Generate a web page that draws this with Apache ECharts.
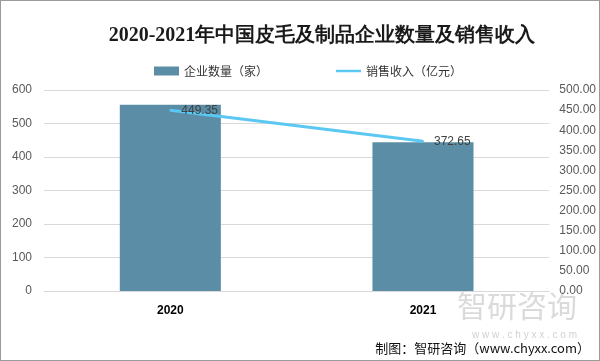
<!DOCTYPE html>
<html><head><meta charset="utf-8">
<script src="https://cdn.jsdelivr.net/npm/echarts@6/dist/echarts.min.js"></script>
<style>html,body{margin:0;padding:0;background:#fff}#c{width:600px;height:361px;box-sizing:border-box;border:1px solid #9a9a9a}</style>
</head><body><div id="c"></div>
<script>
const categories = ['2020', '2021'];
const enterpriseCount = [556, 444];
const salesRevenue = [449.35, 372.65];
const leftTicks = [0, 100, 200, 300, 400, 500, 600];
const rightTicks = [0, 50, 100, 150, 200, 250, 300, 350, 400, 450, 500];

const chart = echarts.init(document.getElementById('c'));
chart.setOption({
  animation: false,
  title: {
    text: '2020-2021年中国皮毛及制品企业数量及销售收入',
    left: 316, top: 20, textAlign: 'center',
    textStyle: {fontFamily: 'Liberation Serif, serif', fontSize: 20, fontWeight: 'bold', color: '#1a1a1a'}
  },
  legend: {
    top: 59, left: 148, itemGap: 68, itemWidth: 25, itemHeight: 9,
    textStyle: {fontSize: 12, color: '#333', fontFamily: 'Noto Sans CJK SC'},
    data: [
      {name: '企业数量（家）', icon: 'rect'},
      {name: '销售收入（亿元）', icon: 'path://M0,0 L10,0 L10,1 L0,1 Z'}
    ]
  },
  grid: {left: 43, right: 45, top: 89, bottom: 69},
  xAxis: {
    type: 'category', data: categories,
    axisTick: {show: false},
    axisLine: {lineStyle: {color: '#d9d9d9'}},
    axisLabel: {color: '#000', fontWeight: 'bold', fontSize: 12, margin: 14}
  },
  yAxis: [
    {type: 'value', min: leftTicks[0], max: leftTicks[leftTicks.length - 1], interval: 100,
     axisLine: {show: false}, axisTick: {show: false},
     splitLine: {lineStyle: {color: '#d9d9d9'}},
     axisLabel: {color: '#595959', fontSize: 12, margin: 12}},
    {type: 'value', min: rightTicks[0], max: rightTicks[rightTicks.length - 1], interval: 50,
     axisLine: {show: false}, axisTick: {show: false}, splitLine: {show: false},
     axisLabel: {color: '#595959', fontSize: 12, margin: 10, formatter: v => v.toFixed(2)}}
  ],
  series: [
    {name: '企业数量（家）', type: 'bar', data: enterpriseCount, barWidth: '40%',
     itemStyle: {color: '#5b8ea6'}},
    {name: '销售收入（亿元）', type: 'line', yAxisIndex: 1, data: salesRevenue,
     symbol: 'circle', symbolSize: 2, showSymbol: true,
     lineStyle: {color: '#5bc8f3', width: 3}, itemStyle: {color: '#5bc8f3'},
     label: {show: true, position: 'right', distance: 10, color: '#404040', fontSize: 12,
             formatter: p => Number(p.value).toFixed(2)}}
  ],
  graphic: [
    {type: 'text', right: 22, top: 290, style: {text: '智研咨询', fontSize: 30, fill: 'rgba(150,150,150,0.35)', fontFamily: 'Noto Sans CJK SC'}},
    {type: 'text', right: 22, top: 329, style: {text: 'w w w . c h y x x . c o m', fontSize: 10, fill: 'rgba(150,150,150,0.45)'}},
    {type: 'text', right: 9, top: 341, style: {text: '制图：智研咨询（www.chyxx.com）', fontSize: 13, fill: '#111', fontFamily: 'Noto Sans CJK SC'}}
  ]
});
</script></body></html>
